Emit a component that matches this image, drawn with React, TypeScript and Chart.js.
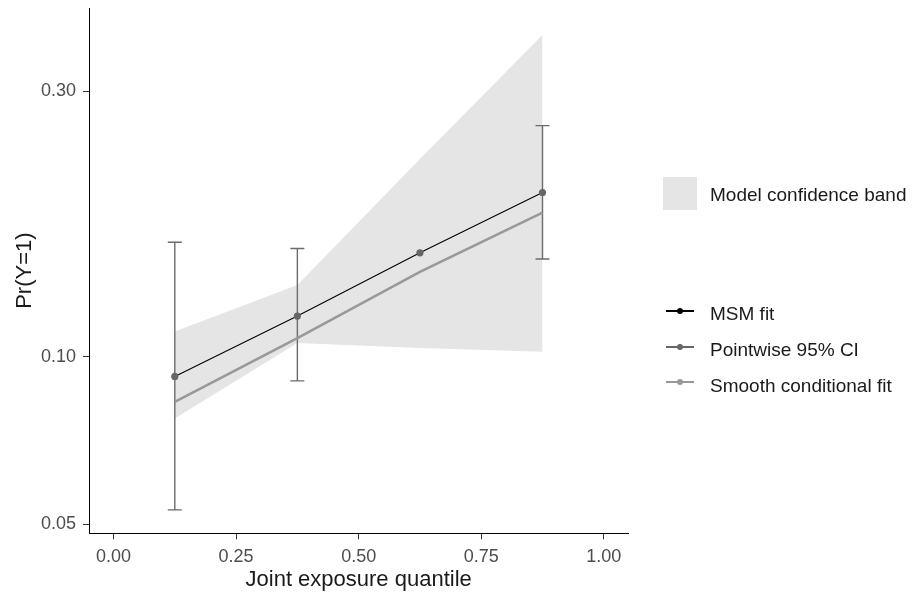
import React, { useEffect, useRef } from "react";
import { Chart, registerables } from "chart.js";
Chart.register(...registerables);

// ---- data ----
const quantiles = [0.125, 0.375, 0.625, 0.875];
const msmFit = [0.0922, 0.1183, 0.1537, 0.1972];
const pointEstimate = [0.0922, 0.1183, 0.1537, 0.1972];
const ciLower: (number | null)[] = [0.0531, 0.0905, null, 0.1498];
const ciUpper: (number | null)[] = [0.1605, 0.1564, null, 0.26];
const smoothFit = [0.083, 0.108, 0.142, 0.1814];
const bandUpper = [0.111, 0.1345, 0.2265, 0.3781];
const bandLower = [0.0775, 0.1059, 0.1037, 0.1021];

const xTicks = [0, 0.25, 0.5, 0.75, 1];
const xTickLabels = ["0.00", "0.25", "0.50", "0.75", "1.00"];
const yTicks = [0.05, 0.1, 0.3];
const yTickLabels = ["0.05", "0.10", "0.30"];

const xTitle = "Joint exposure quantile";
const yTitle = "Pr(Y=1)";
const bandLabel = "Model confidence band";
const lineLabels = ["MSM fit", "Pointwise 95% CI", "Smooth conditional fit"];
const lineColors = ["#000000", "#666666", "#999999"];

const FONT = "'Liberation Sans', Arial, Helvetica, sans-serif";
const W = 918;
const H = 593;

const toXY = (ys: number[]) => quantiles.map((x, i) => ({ x, y: ys[i] }));

const errorBarPlugin = {
  id: "errorBars",
  beforeDatasetsDraw(chart: any) {
    const { ctx, scales } = chart;
    const xs = scales.x;
    const ys = scales.y;
    ctx.save();
    ctx.strokeStyle = "#6b6b6b";
    ctx.lineWidth = 1.4;
    quantiles.forEach((q, i) => {
      const lo = ciLower[i];
      const hi = ciUpper[i];
      if (lo == null || hi == null) return;
      const px = xs.getPixelForValue(q);
      const yl = ys.getPixelForValue(lo);
      const yh = ys.getPixelForValue(hi);
      ctx.beginPath();
      ctx.moveTo(px, yl);
      ctx.lineTo(px, yh);
      ctx.moveTo(px - 7, yl);
      ctx.lineTo(px + 7, yl);
      ctx.moveTo(px - 7, yh);
      ctx.lineTo(px + 7, yh);
      ctx.stroke();
    });
    ctx.restore();
  },
};

export default function App() {
  const canvasRef = useRef<HTMLCanvasElement | null>(null);

  useEffect(() => {
    if (!canvasRef.current) return;
    const axisCommon = {
      grid: {
        display: true,
        drawOnChartArea: false,
        drawTicks: true,
        tickLength: 6,
        tickColor: "#333333",
        tickWidth: 1,
      },
      border: { display: true, color: "#000000", width: 1 },
    };
    const chart = new Chart(canvasRef.current, {
      type: "line",
      data: {
        datasets: [
          {
            label: "points",
            data: toXY(pointEstimate),
            showLine: false,
            pointRadius: 3.6,
            pointBackgroundColor: "#666666",
            pointBorderWidth: 0,
            borderColor: "rgba(0,0,0,0)",
            order: 0,
          },
          {
            label: lineLabels[0],
            data: toXY(msmFit),
            borderColor: "#000000",
            borderWidth: 1.1,
            pointRadius: 0,
            fill: false,
            order: 1,
          },
          {
            label: lineLabels[2],
            data: toXY(smoothFit),
            borderColor: "#999999",
            borderWidth: 2.6,
            pointRadius: 0,
            fill: false,
            order: 2,
          },
          {
            label: "bandUpper",
            data: toXY(bandUpper),
            borderColor: "rgba(0,0,0,0)",
            backgroundColor: "#e5e5e5",
            pointRadius: 0,
            fill: "+1",
            order: 3,
          },
          {
            label: "bandLower",
            data: toXY(bandLower),
            borderColor: "rgba(0,0,0,0)",
            backgroundColor: "#e5e5e5",
            pointRadius: 0,
            fill: false,
            order: 4,
          },
        ],
      } as any,
      options: {
        animation: false,
        responsive: false,
        events: [],
        layout: { padding: { top: 8, right: W - 628.3, left: 0, bottom: 0 } },
        plugins: {
          legend: { display: false },
          tooltip: { enabled: false },
          filler: { drawTime: "beforeDatasetsDraw" },
        } as any,
        scales: {
          x: {
            type: "linear",
            min: -0.05,
            max: 1.05,
            bounds: "data",
            afterBuildTicks: (s: any) => {
              s.ticks = xTicks.map((v) => ({ value: v }));
            },
            afterFit: (s: any) => {
              s.height = H - 533.3;
              s.paddingLeft = 0;
              s.paddingRight = 0;
            },
            ticks: {
              callback: (_v: any, i: number) => xTickLabels[i],
              color: "#4d4d4d",
              font: { family: FONT, size: 18 },
              padding: 7,
              maxRotation: 0,
              autoSkip: false,
            },
            title: {
              display: true,
              text: xTitle,
              color: "#1a1a1a",
              font: { family: FONT, size: 22 },
              padding: { top: 0, bottom: 0 },
            },
            ...axisCommon,
          },
          y: {
            type: "logarithmic",
            min: 0.0482,
            max: 0.4228,
            bounds: "data",
            afterBuildTicks: (s: any) => {
              s.ticks = yTicks.map((v) => ({ value: v }));
            },
            afterFit: (s: any) => {
              s.width = 89;
              s.paddingTop = 0;
              s.paddingBottom = 0;
            },
            ticks: {
              callback: (_v: any, i: number) => yTickLabels[i],
              color: "#4d4d4d",
              font: { family: FONT, size: 18 },
              padding: 7,
              autoSkip: false,
            },
            title: {
              display: true,
              text: yTitle,
              color: "#1a1a1a",
              font: { family: FONT, size: 22 },
              padding: { top: 12, bottom: 0 },
            },
            ...axisCommon,
          },
        } as any,
      },
      plugins: [errorBarPlugin],
    });
    return () => chart.destroy();
  }, []);

  const textStyle: React.CSSProperties = {
    position: "absolute",
    left: 710,
    height: 22,
    lineHeight: "22px",
    fontFamily: FONT,
    fontSize: 19,
    color: "#1a1a1a",
    whiteSpace: "nowrap",
  };
  const keyY = [311, 347, 382];
  const textY = [314, 349.5, 386];

  return (
    <div
      style={{
        position: "absolute",
        left: 0,
        top: 0,
        width: W,
        height: H,
        background: "#ffffff",
        overflow: "hidden",
      }}
    >
      <canvas ref={canvasRef} width={W} height={H} style={{ display: "block" }} />
      <div
        style={{
          position: "absolute",
          left: 663,
          top: 177,
          width: 34,
          height: 33,
          background: "#e5e5e5",
        }}
      />
      <div style={{ ...textStyle, top: 195 - 11 }}>{bandLabel}</div>
      {lineLabels.map((lab, i) => (
        <React.Fragment key={lab}>
          <div
            style={{
              position: "absolute",
              left: 666,
              top: keyY[i] - 1.25,
              width: 28,
              height: 2.5,
              background: lineColors[i],
            }}
          />
          <div
            style={{
              position: "absolute",
              left: 680 - 3,
              top: keyY[i] - 3,
              width: 6,
              height: 6,
              borderRadius: "50%",
              background: lineColors[i],
            }}
          />
          <div style={{ ...textStyle, top: textY[i] - 11 }}>{lab}</div>
        </React.Fragment>
      ))}
    </div>
  );
}
